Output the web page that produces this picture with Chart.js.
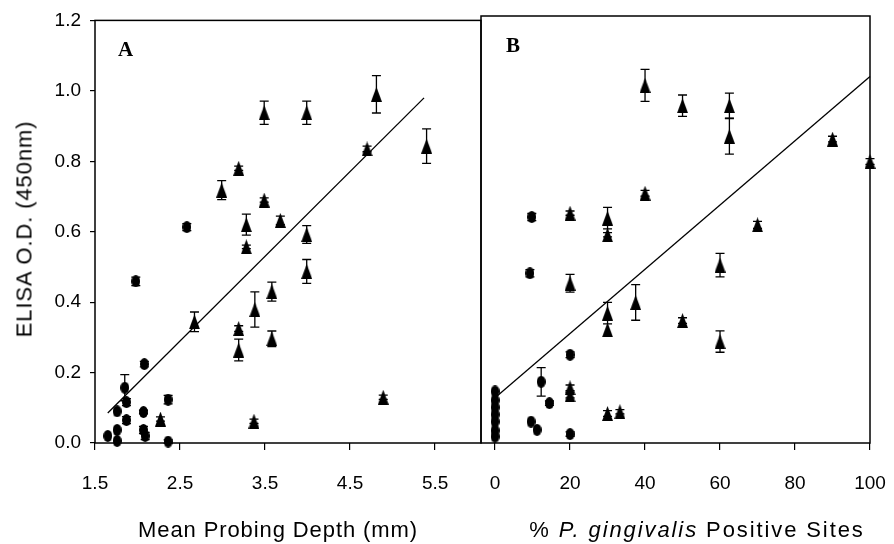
<!DOCTYPE html>
<html><head><meta charset="utf-8">
<script src="https://cdn.jsdelivr.net/npm/chart.js@4/dist/chart.umd.min.js"></script>
<style>
html,body{margin:0;padding:0;background:#fff;}
#wrap{position:relative;width:894px;height:544px;overflow:hidden;font-family:"Liberation Sans",Arial,sans-serif;}
#ca{position:absolute;left:0;top:0;width:488px;height:544px;}
#cb{position:absolute;left:470px;top:0;width:424px;height:544px;}
.t{position:absolute;font-size:22px;line-height:25px;color:#000;white-space:nowrap;letter-spacing:0.9px;}
#tx1{left:278px;top:517px;transform:translateX(-50%);}
#tx2{left:697px;top:517px;transform:translateX(-50%);letter-spacing:1.9px;}
#ty{left:24px;top:229px;transform:translate(-50%,-50%) rotate(-90deg);}
</style></head><body>
<div id="wrap">
<div id="ca"><canvas id="a"></canvas></div>
<div id="cb"><canvas id="b"></canvas></div>
<div class="t" id="tx1">Mean Probing Depth (mm)</div>
<div class="t" id="tx2">% <i>P. gingivalis</i> Positive Sites</div>
<div class="t" id="ty">ELISA O.D. (450nm)</div>
</div>
<script>
// ---- tick labels ----
const yTicks = [0, 0.2, 0.4, 0.6, 0.8, 1.0, 1.2];
const xTicksA = [1.5, 2.5, 3.5, 4.5, 5.5];
const xTicksB = [0, 20, 40, 60, 80, 100];

// ---- Panel A: Mean probing depth ----
const depthCircleX   = [2.58, 1.98, 2.08, 1.85, 1.87, 1.76, 1.87, 2.07, 2.36, 1.76, 1.65, 1.76, 2.07, 2.09, 2.36];
const depthCircleY   = [0.613,0.459,0.224,0.157,0.116,0.090,0.065,0.088,0.123,0.037,0.020,0.006,0.037,0.020,0.004];
const depthCircleErr = [0.010,0.012,0.008,0.037,0.010,0,    0.010,0.005,0.012,0,    0,    0,    0.010,0.010,0.005];

const depthTriX   = [3.49, 3.99, 4.81, 4.70, 5.40, 3.19, 2.99, 3.49, 3.28, 3.68, 3.99, 3.28, 3.99, 3.58, 3.38, 2.67, 3.19, 3.19, 3.58, 4.89, 3.37, 2.27];
const depthTriY   = [0.938,0.938,0.990,0.835,0.843,0.780,0.718,0.690,0.620,0.632,0.592,0.557,0.487,0.430,0.379,0.344,0.325,0.264,0.296,0.130,0.062,0.068];
const depthTriErr = [0.033,0.033,0.053,0.008,0.049,0.006,0.027,0.006,0.030,0.012,0.025,0.005,0.034,0.027,0.050,0.028,0.008,0.031,0.022,0.006,0.006,0.006];

const fitAX = [1.65, 5.37];
const fitAY = [0.085, 0.98];

// ---- Panel B: % P. gingivalis positive sites ----
const siteCircleX   = [9.8, 9.3, 20, 12.3, 14.5, 9.6, 11.2, 20, 0, 0, 0, 0, 0, 0, 0];
const siteCircleY   = [0.635,0.477,0.248,0.172,0.112,0.060,0.037,0.025,0.145,0.120,0.100,0.080,0.060,0.035,0.018];
const siteCircleErr = [0.010,0.010,0.008,0.040,0.006,0,    0,    0.006,0,    0,    0,    0,    0,    0,    0];

const siteTriX   = [40, 50, 62.5, 62.5, 90, 100, 40, 20, 30, 70, 30, 20, 60, 30, 30, 37.5, 50, 60, 20, 20, 30, 33.3];
const siteTriY   = [1.005,0.948,0.948,0.862,0.854,0.791,0.702,0.646,0.632,0.613,0.585,0.449,0.500,0.365,0.318,0.395,0.344,0.285,0.155,0.135,0.083,0.088];
const siteTriErr = [0.045,0.030,0.035,0.050,0.008,0.008,0.008,0.006,0.030,0.010,0.006,0.025,0.033,0.030,0,    0.050,0.008,0.030,0.008,0.008,0.008,0.006];

const fitBX = [0, 100];
const fitBY = [0.127, 1.03];

// ---- marker glyphs ----
function triImg(){const c=document.createElement('canvas');c.width=11;c.height=15;const g=c.getContext('2d');g.fillStyle='#000';g.beginPath();g.moveTo(5.5,0);g.lineTo(11,15);g.lineTo(0,15);g.closePath();g.fill();return c;}
function ellImg(){const c=document.createElement('canvas');c.width=9;c.height=12;const g=c.getContext('2d');g.fillStyle='#000';g.beginPath();g.ellipse(4.5,6,4.5,6,0,0,Math.PI*2);g.fill();return c;}
const TRI = triImg(), ELL = ellImg();

const pts = (xs, ys) => xs.map((x, i) => ({x: x, y: ys[i]}));

const errorBars = {
  id: 'errorBars',
  afterDatasetsDraw(chart) {
    const ctx = chart.ctx, xs = chart.scales.x, ys = chart.scales.y;
    ctx.save(); ctx.strokeStyle = '#000'; ctx.lineWidth = 1.3;
    chart.data.datasets.forEach(ds => {
      if (!ds.errors) return;
      ds.data.forEach((p, j) => {
        const e = ds.errors[j]; if (!e) return;
        const x = xs.getPixelForValue(p.x);
        const y1 = ys.getPixelForValue(p.y + e), y2 = ys.getPixelForValue(p.y - e);
        ctx.beginPath();
        ctx.moveTo(x, y1); ctx.lineTo(x, y2);
        ctx.moveTo(x - 4.5, y1); ctx.lineTo(x + 4.5, y1);
        ctx.moveTo(x - 4.5, y2); ctx.lineTo(x + 4.5, y2);
        ctx.stroke();
      });
    });
    ctx.restore();
  }
};
const frame = {
  id: 'frame',
  afterDraw(chart, args, opts) {
    const a = chart.chartArea, ctx = chart.ctx;
    ctx.save();
    ctx.strokeStyle = '#000'; ctx.lineWidth = 1.5;
    ctx.strokeRect(a.left, a.top, a.right - a.left, a.bottom - a.top);
    ctx.fillStyle = '#000';
    ctx.font = 'bold 21px "Liberation Serif", "Times New Roman", serif';
    ctx.textBaseline = 'alphabetic'; ctx.textAlign = 'left';
    ctx.fillText(opts.text, a.left + opts.dx, a.top + 36);
    ctx.restore();
  }
};

const yFont = {family: '"Liberation Sans", Arial, sans-serif', size: 19};
const xFont = {family: '"Liberation Sans", Arial, sans-serif', size: 19, lineHeight: 3.53};

function makeChart(id, cfg) {
  return new Chart(document.getElementById(id), {
    type: 'scatter',
    data: {datasets: [
      {data: pts(cfg.cx, cfg.cy), errors: cfg.ce, pointStyle: ELL, pointRadius: 5, clip: false},
      {data: pts(cfg.tx, cfg.ty), errors: cfg.te, pointStyle: TRI, pointRadius: 6, clip: false},
      {type: 'line', data: pts(cfg.fx, cfg.fy), showLine: true, borderColor: '#000', borderWidth: 1.3, pointRadius: 0, fill: false, clip: false}
    ]},
    options: {
      responsive: true, maintainAspectRatio: false, animation: false, events: [],
      layout: {padding: cfg.padding},
      plugins: {legend: {display: false}, tooltip: {enabled: false}, frame: {text: cfg.label, dx: cfg.labelDx}},
      scales: {
        x: {
          type: 'linear', min: cfg.xmin, max: cfg.xmax,
          afterBuildTicks: s => { s.ticks = cfg.xticks.map(v => ({value: v})); },
          afterFit: s => { s.height = 101; },
          ticks: {color: '#000', font: xFont, padding: 0, maxRotation: 0, autoSkip: false, callback: cfg.xfmt},
          grid: {display: true, drawOnChartArea: false, drawTicks: true, tickLength: 7, color: '#000', lineWidth: 1.2},
          border: {display: false}
        },
        y: {
          type: 'linear', min: 0, max: 1.2, display: cfg.showY,
          afterBuildTicks: s => { s.ticks = yTicks.map(v => ({value: v})); },
          afterFit: s => { s.width = cfg.showY ? 95 : 0; },
          ticks: {color: '#000', font: yFont, padding: 9, callback: v => Number(v).toFixed(1)},
          grid: {display: true, drawOnChartArea: false, drawTicks: true, tickLength: 5, color: '#000', lineWidth: 1.2},
          border: {display: false}
        }
      }
    },
    plugins: [errorBars, frame]
  });
}

makeChart('a', {
  cx: depthCircleX, cy: depthCircleY, ce: depthCircleErr,
  tx: depthTriX, ty: depthTriY, te: depthTriErr,
  fx: fitAX, fy: fitAY,
  xmin: 1.5, xmax: 6.04, xticks: xTicksA, xfmt: v => Number(v).toFixed(1),
  showY: true, padding: {top: 16, right: 1, left: 0, bottom: 0},
  label: 'A', labelDx: 23
});
makeChart('b', {
  cx: siteCircleX, cy: siteCircleY, ce: siteCircleErr,
  tx: siteTriX, ty: siteTriY, te: siteTriErr,
  fx: fitBX, fy: fitBY,
  xmin: -3.75, xmax: 100, xticks: xTicksB, xfmt: v => String(v),
  showY: false, padding: {top: 16, right: 24, left: 11, bottom: 0},
  label: 'B', labelDx: 25
});
</script>
</body></html>
